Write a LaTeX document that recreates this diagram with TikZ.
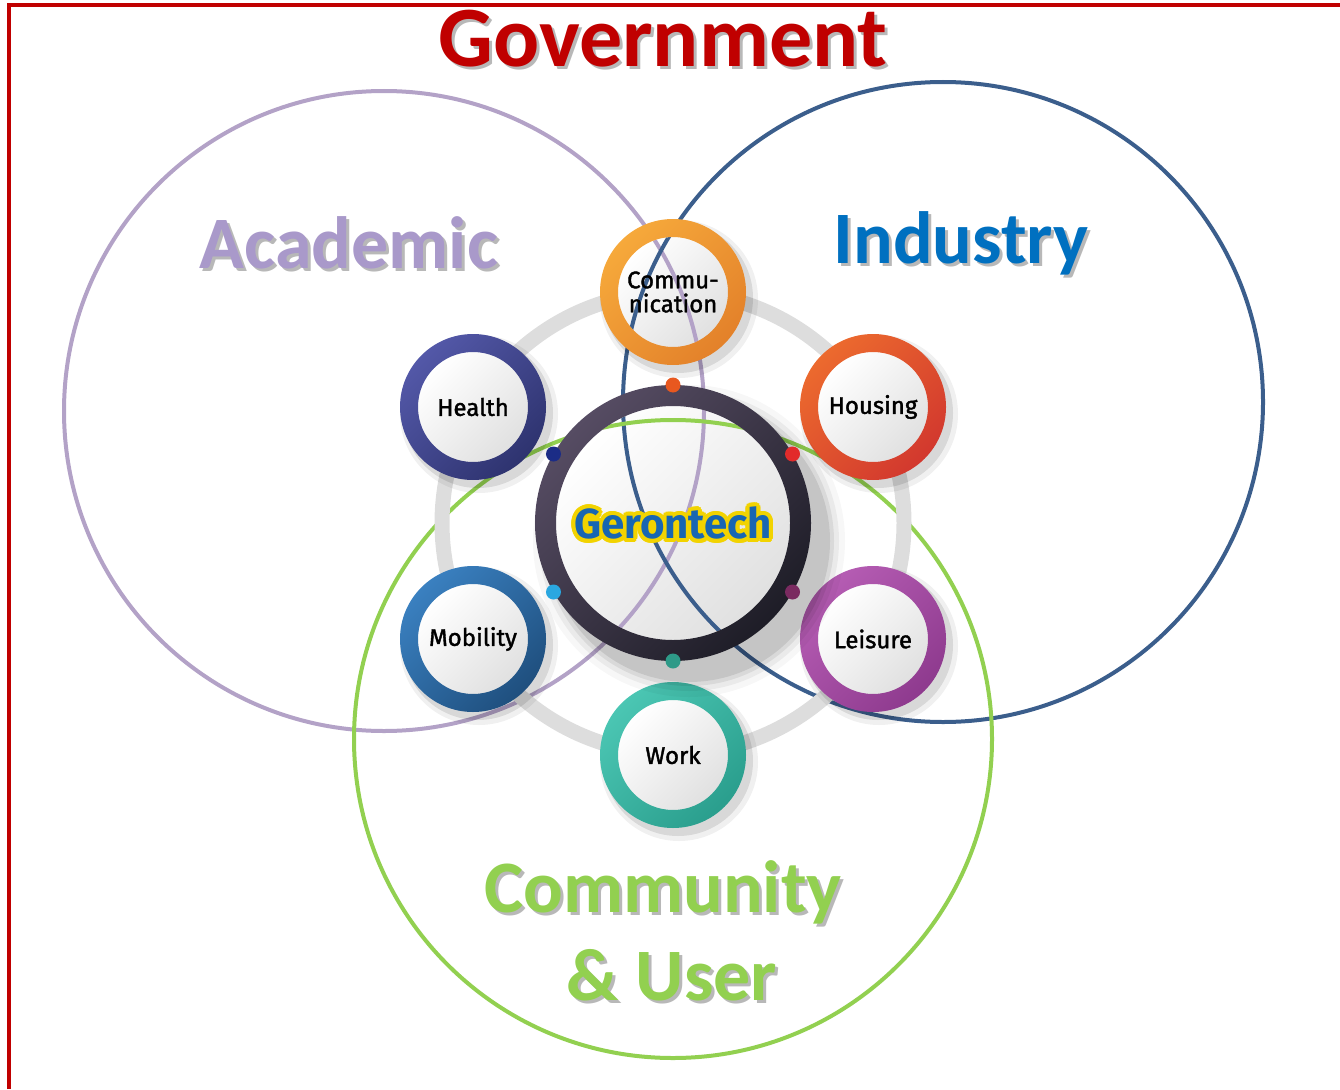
\documentclass[tikz,border=0pt]{standalone}
\usepackage{fontspec}
\setmainfont{Carlito}
\newfontfamily\dinf{Fira Sans}
\newfontfamily\dinm[FakeBold=1.6]{Fira Sans}
\usetikzlibrary{calc}
\definecolor{lav}{HTML}{B3A2C7}
\definecolor{indblue}{HTML}{3B5E8C}
\definecolor{grn}{HTML}{92D050}
\definecolor{gov}{HTML}{C00000}
\definecolor{indtxt}{HTML}{0070C0}
\definecolor{acadtxt}{HTML}{A999CA}
\definecolor{ringgrey}{HTML}{DDDDDD}
\definecolor{gerblue}{HTML}{1866B2}
\definecolor{geryel}{HTML}{F2D300}
\definecolor{gerlight}{HTML}{564C63}
\definecolor{gerdark}{HTML}{1E1D27}
\newcommand\bigcircles{%
  \draw[lav,bigline] (A) circle (320pt);
  \draw[indblue,bigline] (I) circle (320pt);
  \draw[grn,bigline] (C) circle (319pt);}
% #1 name, #2 x, #3 y, #4 light, #5 dark, #6 label
\newcommand\topic[6]{%
  \definecolor{#1light}{HTML}{#4}%
  \definecolor{#1dark}{HTML}{#5}%
  \coordinate (#1) at (#2,#3);
  \fill[black,opacity=0.06] ($(#1)+(6,7)$) circle (79pt);
  \fill[black,opacity=0.10] ($(#1)+(5,6)$) circle (75pt);
  \shade[top color=white,bottom color=black!12,shading angle=45] (#1) circle (56pt);
  \begin{scope}\clip (#1) circle (55pt); \bigcircles \end{scope}
  \shade[even odd rule,top color=#1light,bottom color=#1dark,shading angle=45] (#1) circle (73pt) (#1) circle (55pt);
  \node[lbl] (#1lab) at (#1) {#6};}
\begin{document}
\begin{tikzpicture}[x=1pt,y=-1pt,
  bigline/.style={line width=4pt},
  title/.style={font=\bfseries\fontsize{74}{80}\selectfont,anchor=base},
  lbl/.style={font=\dinm\fontsize{24}{24}\selectfont,align=center,text=black,inner sep=0pt},
  shadowtxt/.style={text=black,opacity=0.28}]
\useasboundingbox (0,0) rectangle (1340,1089);
% frame
\coordinate (fbl) at (9,1089); \coordinate (ftl) at (9,5); \coordinate (ftr) at (1340,5);
\draw[gov,line width=4.5pt] (fbl) -- (ftl) -- (ftr);
% big circles
\coordinate (A) at (384,411);
\coordinate (I) at (943,402);
\coordinate (C) at (673,739);
\coordinate (G) at (673,523);
\bigcircles
% grey ring
\draw[ringgrey,line width=15pt] (G) circle (231pt);
% topics
\topic{hea}{473}{407}{5358A8}{2E336F}{Health}
\topic{com}{673}{292}{F6A93B}{E3812A}{Commu-\\nication}
\topic{hou}{873}{407}{EC6A2E}{D2382E}{Housing}
\topic{lei}{873}{639}{B65DB4}{8E3A8E}{Leisure}
\topic{wor}{673}{755}{4BC6B3}{2A9E8D}{Work}
\topic{mob}{473}{639}{3A80C0}{1F4F7E}{Mobility}
% central
\foreach \r/\o in {156/0.03,150/0.05,145/0.07,141/0.09}{
  \fill[black,opacity=\o] ($(G)+(16,18)$) circle (\r pt);}
\shade[top color=white,bottom color=black!12,shading angle=45] (G) circle (118pt);
\begin{scope}\clip (G) circle (117pt); \bigcircles \end{scope}
\shade[even odd rule,top color=gerlight,bottom color=gerdark,shading angle=45] (G) circle (138pt) (G) circle (117pt);
\foreach \a/\c in {90/E8581F,30/E22B2B,-30/7A2A60,-90/2E9A88,-150/2AA7E0,150/1B2C86}{
  \definecolor{dotc}{HTML}{\c}
  \fill[dotc] ($(G)+(\a:138pt)$) circle (7.5pt);}
\foreach \a in {0,20,...,340}{
  \node[font=\dinf\bfseries\fontsize{42}{46}\selectfont,text=geryel,inner sep=0pt] (gs\a) at ($(G)+(\a:4pt)$) {Gerontech};}
\node[font=\dinf\bfseries\fontsize{42}{46}\selectfont,text=gerblue,inner sep=0pt] (ger) at (G) {Gerontech};
% titles
\node[title,shadowtxt,font=\bfseries\fontsize{86}{90}\selectfont] (govs) at (666,70) {Government};
\node[title,text=gov,font=\bfseries\fontsize{86}{90}\selectfont] (gov) at (663,67) {Government};
\node[title,shadowtxt] (acas) at (352,271) {Academic};
\node[title,text=acadtxt] (aca) at (349,268) {Academic};
\node[title,shadowtxt] (inds) at (964,266) {Industry};
\node[title,text=indtxt] (ind) at (961,263) {Industry};
\node[title,shadowtxt] (cos) at (666,915) {Community};
\node[title,text=grn] (co) at (663,912) {Community};
\node[title,shadowtxt] (uss) at (675,1003) {\& User};
\node[title,text=grn] (us) at (672,1000) {\& User};
\end{tikzpicture}
\end{document}
